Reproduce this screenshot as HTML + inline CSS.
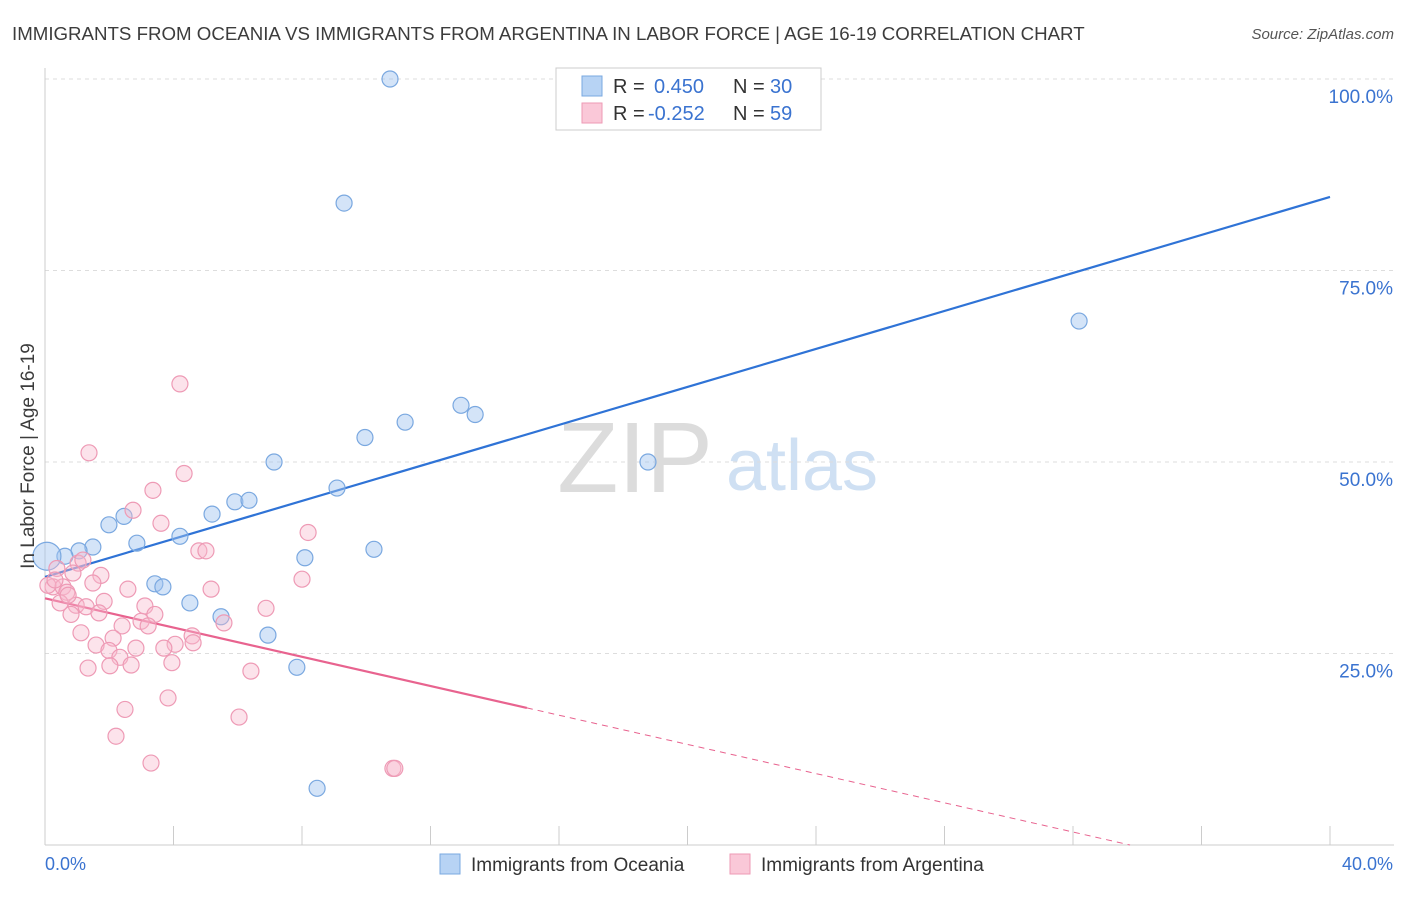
<!DOCTYPE html>
<html><head><meta charset="utf-8"><style>
body{margin:0;background:#fff;font-family:"Liberation Sans",sans-serif;}
svg text{font-family:"Liberation Sans",sans-serif;}
</style></head><body>
<svg id="chart" width="1406" height="892" viewBox="0 0 1406 892" xmlns="http://www.w3.org/2000/svg">
<text x="12" y="40" font-size="18.7" fill="#3c3c3c">IMMIGRANTS FROM OCEANIA VS IMMIGRANTS FROM ARGENTINA IN LABOR FORCE | AGE 16-19 CORRELATION CHART</text>
<text x="1394" y="39" font-size="15" fill="#555" text-anchor="end" font-style="italic">Source: ZipAtlas.com</text>
<g>
<text x="635" y="492" font-size="100" fill="#dcdcdc" font-family="Liberation Serif" text-anchor="middle">ZIP</text>
<text x="802" y="490" font-size="72" fill="#cfe0f3" text-anchor="middle">atlas</text>
</g>
<g id="grid"></g>
<g id="axes"></g>
<g id="lines"></g>
<g id="points"></g>
<text transform="translate(34,456) rotate(-90)" font-size="19" fill="#3c3c3c" text-anchor="middle">In Labor Force | Age 16-19</text>
<g>
<rect x="556" y="68" width="265" height="62" fill="#fff" stroke="#ccc"/>
<rect x="582" y="76" width="20" height="20" fill="#b7d3f4" stroke="#7aa8e0"/>
<rect x="582" y="103" width="20" height="20" fill="#fac8d8" stroke="#ee9ab5"/>
<text x="613" y="93" font-size="20" fill="#333">R = </text><text x="654" y="93" font-size="20" fill="#3a73d0">0.450</text>
<text x="733" y="93" font-size="20" fill="#333">N = </text><text x="770" y="93" font-size="20" fill="#3a73d0">30</text>
<text x="613" y="120" font-size="20" fill="#333">R = </text><text x="648" y="120" font-size="20" fill="#3a73d0">-0.252</text>
<text x="733" y="120" font-size="20" fill="#333">N = </text><text x="770" y="120" font-size="20" fill="#3a73d0">59</text>
</g>
<g>
<rect x="440" y="854" width="20" height="20" fill="#b7d3f4" stroke="#7aa8e0"/>
<text x="471" y="871" font-size="19" fill="#333">Immigrants from Oceania</text>
<rect x="730" y="854" width="20" height="20" fill="#fac8d8" stroke="#ee9ab5"/>
<text x="761" y="871" font-size="19" fill="#333">Immigrants from Argentina</text>
</g>
</svg>
<script>
const blueX=[10.74,9.31,32.19,12.95,13.39,11.21,9.96,18.77,7.13,9.09,5.91,6.35,5.20,2.46,1.99,4.20,2.86,1.49,1.06,0.62,0.06,10.24,8.09,3.42,3.67,4.51,5.48,6.94,7.84,8.47];
const blueY=[100.0,83.8,68.4,57.4,56.2,55.2,53.2,50.0,50.0,46.6,44.8,45.0,43.2,42.9,41.8,40.3,39.4,38.9,38.4,37.7,37.7,38.6,37.5,34.1,33.7,31.6,29.8,27.4,23.2,7.4];
const pinkX=[4.20,1.37,4.33,3.36,2.74,3.61,8.19,4.79,5.01,1.03,0.37,0.87,1.74,8.00,1.49,2.58,5.17,0.25,0.56,0.68,0.47,0.97,1.84,1.28,3.11,1.68,0.81,3.42,6.88,2.99,3.21,2.40,5.57,1.12,2.12,4.58,4.05,1.59,1.99,2.83,3.70,4.61,2.33,2.68,2.02,1.34,3.95,6.41,3.83,2.49,6.04,2.21,3.30,10.83,10.89,0.09,0.31,0.72,1.18];
const pinkY=[60.2,51.2,48.5,46.3,43.7,42.0,40.8,38.4,38.4,36.8,36.1,35.5,35.2,34.7,34.2,33.4,33.4,33.7,33.7,33.0,31.6,31.3,31.8,31.1,31.2,30.3,30.1,30.1,30.9,29.2,28.6,28.6,29.0,27.7,27.0,27.3,26.2,26.1,25.4,25.7,25.7,26.4,24.5,23.5,23.4,23.1,23.8,22.7,19.2,17.7,16.7,14.2,10.7,10.0,10.0,33.9,34.6,32.6,37.2];
const yTicks=[25,50,75,100];
const yTickLabels=["25.0%","50.0%","75.0%","100.0%"];
const xTicks=[0,4,8,12,16,20,24,28,32,36,40];
const blueTrend=[35.0,84.6];
const pinkTrend=[32.2,17.9,15.0];
const X=v=>45+v/40*1285, Y=v=>845-v/100*766;
const NS="http://www.w3.org/2000/svg";
function mk(parent,tag,attrs){const e=document.createElementNS(NS,tag);for(const k in attrs)e.setAttribute(k,attrs[k]);document.getElementById(parent).appendChild(e);return e;}
yTicks.forEach((t,i)=>{
 const g=mk('grid','line',{x1:45,x2:1394,y1:Y(t),y2:Y(t),stroke:'#ddd','stroke-dasharray':'4,4'});
 
 
 const l=mk('axes','text',{x:1393,y:Y(t)+24,'font-size':19,fill:'#3a73d0','text-anchor':'end'});
 l.textContent=yTickLabels[i];
 
 
});
const ax=mk('axes','line',{x1:45,x2:1394,y1:845,y2:845,stroke:'#ccc'});


const ay=mk('axes','line',{x1:45,x2:45,y1:68,y2:845,stroke:'#ccc'});


xTicks.forEach(t=>{
 const k=mk('axes','line',{x1:X(t),x2:X(t),y1:826,y2:845,stroke:'#ccc'});
 
 
});
const x0=mk('axes','text',{x:45,y:870,'font-size':18,fill:'#3a73d0'});x0.textContent='0.0%';


const x1=mk('axes','text',{x:1393,y:870,'font-size':18,fill:'#3a73d0','text-anchor':'end'});x1.textContent='40.0%';


blueX.forEach((v,i)=>{
 const c=mk('points','circle',{cx:X(v),cy:Y(blueY[i]),r:i==20?14:8,fill:'rgba(160,196,240,0.45)',stroke:'#7aa8e0','stroke-width':1.2});
 
 
});
pinkX.forEach((v,i)=>{
 const c=mk('points','circle',{cx:X(v),cy:Y(pinkY[i]),r:8,fill:'rgba(248,186,206,0.4)',stroke:'#ee9ab5','stroke-width':1.2});
 
 
});
const bl=mk('lines','line',{x1:X(0),y1:Y(blueTrend[0]),x2:X(40),y2:Y(blueTrend[1]),stroke:'#2f73d6','stroke-width':2.2});


const slope=(pinkTrend[1]-pinkTrend[0])/pinkTrend[2];
const pl=mk('lines','line',{x1:X(0),y1:Y(pinkTrend[0]),x2:X(pinkTrend[2]),y2:Y(pinkTrend[1]),stroke:'#e8638f','stroke-width':2.2});


const xEnd=-pinkTrend[0]/slope;
const pd=mk('lines','line',{x1:X(pinkTrend[2]),y1:Y(pinkTrend[1]),x2:X(xEnd),y2:Y(0),stroke:'#e8638f','stroke-width':1,'stroke-dasharray':'6,5'});


</script>
</body></html>
